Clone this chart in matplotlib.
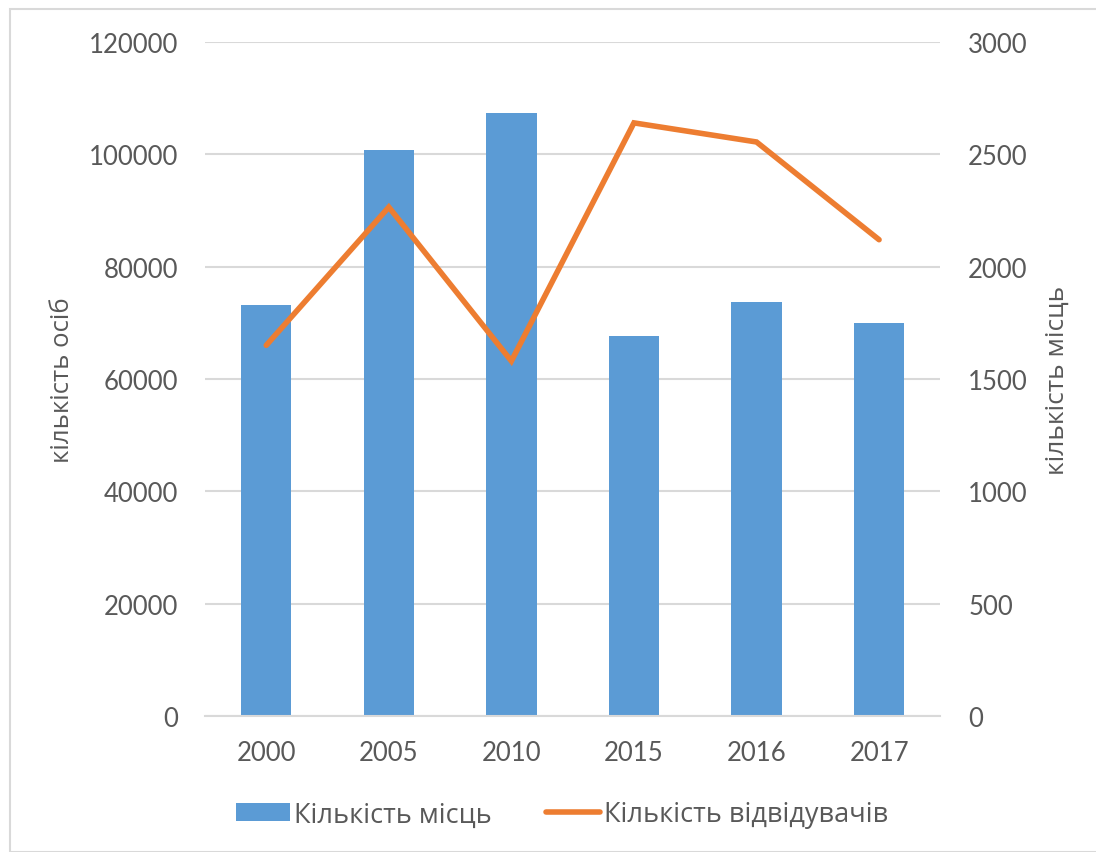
import matplotlib
matplotlib.use("Agg")
import matplotlib.pyplot as plt
from matplotlib.patches import Rectangle

years = ["2000", "2005", "2010", "2015", "2016", "2017"]
places = [73200, 100800, 107300, 67700, 73700, 70000]      # left axis, bars
visitors = [1650, 2265, 1580, 2640, 2555, 2120]            # right axis, line

BLUE = "#5B9BD5"
ORANGE = "#ED7D31"
GRID = "#D9D9D9"
TXT = "#595959"
TICKFONT = "Lato"
LABFONT = "Open Sans"

fig = plt.figure(figsize=(10.96, 8.53), dpi=100)
fig.patches.append(Rectangle((10 / 1096, 0), 1.0, 1 - 10 / 853, transform=fig.transFigure,
                             fill=False, edgecolor=GRID, linewidth=1.5))

ax = fig.add_axes([0.187, 0.1594, 0.671, 0.7902])
x = list(range(len(years)))
b = ax.bar(x, places, width=0.41, color=BLUE, zorder=2, label="Кількість місць")
ax.set_ylim(0, 120000)
ax.set_xlim(-0.5, len(years) - 0.5)
ax.set_yticks(range(0, 120001, 20000))
ax.set_xticks(x)
ax.set_xticklabels(years)
ax.grid(axis="y", color=GRID, linewidth=1.5, zorder=0)
ax.set_axisbelow(True)
for s in ax.spines.values():
    s.set_visible(False)
ax.spines["bottom"].set_visible(True)
ax.spines["bottom"].set_color(GRID)
ax.spines["bottom"].set_linewidth(1.5)
ax.tick_params(length=0, labelsize=18.5, labelcolor=TXT, pad=17)
ax.tick_params(axis="y", pad=19)
for t in ax.get_xticklabels() + ax.get_yticklabels():
    t.set_fontfamily(TICKFONT)
ax.set_ylabel("кількість осіб", fontsize=18.5, color=TXT, family=LABFONT, labelpad=10)

ax2 = ax.twinx()
l, = ax2.plot(x, visitors, color=ORANGE, linewidth=4, solid_capstyle="round",
              solid_joinstyle="miter", zorder=3, label="Кількість відвідувачів")
ax2.set_ylim(0, 3000)
ax2.set_yticks(range(0, 3001, 500))
for s in ax2.spines.values():
    s.set_visible(False)
ax2.tick_params(length=0, labelsize=18.5, labelcolor=TXT, pad=20)
for t in ax2.get_yticklabels():
    t.set_fontfamily(TICKFONT)
ax2.set_ylabel("кількість місць", fontsize=19, color=TXT, family=LABFONT, labelpad=12)

leg = fig.legend([b, l], ["Кількість місць", "Кількість відвідувачів"],
                 loc="center", bbox_to_anchor=(0.513, 0.044), ncol=2, frameon=False,
                 prop={"family": LABFONT, "size": 19.5}, handlelength=2.0,
                 handletextpad=0.15, columnspacing=2.0, labelcolor=TXT)

fig.savefig("out.png", dpi=100)
